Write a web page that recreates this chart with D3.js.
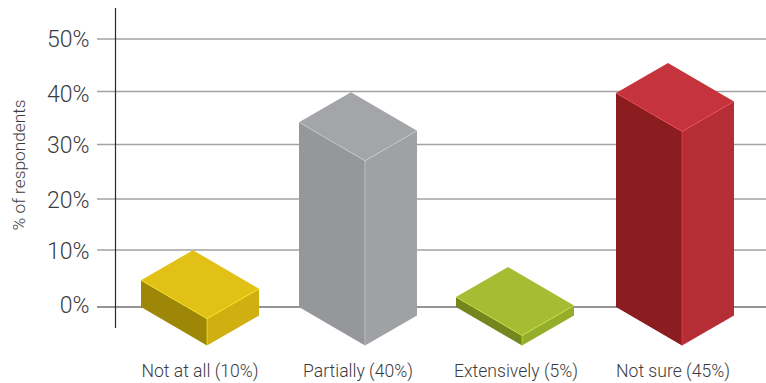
<!DOCTYPE html>
<html><head><meta charset="utf-8">
<script src="https://cdn.jsdelivr.net/npm/d3@7/dist/d3.min.js"></script>
<style>html,body{margin:0;padding:0;background:#fff}svg{display:block}text{font-family:Roboto,"Liberation Sans",Arial,sans-serif;font-weight:300}</style>
</head><body><svg id="c" width="766" height="383"></svg>
<script>
const categories = ["Not at all (10%)", "Partially (40%)", "Extensively (5%)", "Not sure (45%)"];
const shares = [10, 40, 5, 45];
// height of each box's left edge
const boxHeights = [4.7, 34.2, 1.75, 39.7];
const tickValues = [0, 10, 20, 30, 40, 50];
const topColors = ["#e2c116", "#a4a5a9", "#a5bc33", "#c5343d"];
const leftColors = ["#9e8707", "#96979b", "#73871e", "#8b1d21"];
const rightColors = ["#cfb010", "#a0a1a5", "#96ad2c", "#b52e36"];

const W = 766, H = 383;
const svg = d3.select("#c");
const y = d3.scaleLinear().domain(tickValues).range([307, 250, 199, 144.5, 91.5, 39]);
const yLabel = d3.scaleLinear().domain(tickValues).range([304.5, 251, 199.5, 145, 94, 39]);
const x = d3.scaleOrdinal().domain(categories).range([141, 299, 456, 616]);
const xLabel = d3.scaleOrdinal().domain(categories).range([200, 358, 516, 673]);
const frontDx = 66, frontDy = 38.5, sideDx = 52, sideDy = 30;

// gridlines
svg.append("g").selectAll("line").data(tickValues.filter(d => d > 0)).join("line")
  .attr("x1", 97).attr("x2", W).attr("y1", d => y(d)).attr("y2", d => y(d))
  .attr("stroke", "#a2a2a4").attr("stroke-width", 1.3);
svg.append("line").attr("x1", 97).attr("x2", W).attr("y1", y(0)).attr("y2", y(0))
  .attr("stroke", "#2a2a2a").attr("stroke-width", 1.2);
svg.append("line").attr("x1", 115.5).attr("x2", 115.5).attr("y1", 8).attr("y2", 328)
  .attr("stroke", "#2a2a2a").attr("stroke-width", 1.2);

// tick labels
svg.append("g").selectAll("text").data(tickValues).join("text")
  .attr("x", 89.5).attr("y", d => yLabel(d)).attr("dy", "0.36em").attr("text-anchor", "end")
  .attr("font-size", 23).attr("fill", "#3c3c3e").text(d => d + "%");

svg.append("text").attr("transform", "translate(19,165) rotate(-90)").attr("text-anchor", "middle")
  .attr("dy", "0.36em").attr("font-size", 17.3).attr("fill", "#3c3c3e").text("% of respondents");

// boxes
const pts = a => a.map(p => p.join(",")).join(" ");
const g = svg.append("g").selectAll("g").data(categories).join("g");
g.each(function (c, i) {
  const s = d3.select(this), x0 = x(c), yb = y(0), yt = y(boxHeights[i]);
  const fx = x0 + frontDx, rx = fx + sideDx;
  const edge = d3.color(topColors[i]).brighter(0.7).formatHex();
  s.append("polygon").attr("fill", leftColors[i])
    .attr("points", pts([[x0, yt], [fx, yt + frontDy], [fx, yb + frontDy], [x0, yb]]));
  s.append("polygon").attr("fill", rightColors[i])
    .attr("points", pts([[fx, yt + frontDy], [rx, yt + frontDy - sideDy], [rx, yb + frontDy - sideDy], [fx, yb + frontDy]]));
  s.append("polygon").attr("fill", topColors[i])
    .attr("points", pts([[x0, yt], [x0 + sideDx, yt - sideDy], [rx, yt + frontDy - sideDy], [fx, yt + frontDy]]));
  s.append("polyline").attr("fill", "none").attr("stroke", edge).attr("stroke-width", 0.6)
    .attr("points", pts([[x0, yt], [fx, yt + frontDy], [rx, yt + frontDy - sideDy]]));
  s.append("line").attr("x1", fx).attr("x2", fx).attr("y1", yt + frontDy).attr("y2", yb + frontDy)
    .attr("stroke", edge).attr("stroke-width", 0.6);
});

// category labels
svg.append("g").selectAll("text").data(categories).join("text")
  .attr("x", d => xLabel(d)).attr("y", 371).attr("dy", "0.36em").attr("text-anchor", "middle")
  .attr("font-size", 17.6).attr("fill", "#3c3c3e").text(d => d);
</script></body></html>
